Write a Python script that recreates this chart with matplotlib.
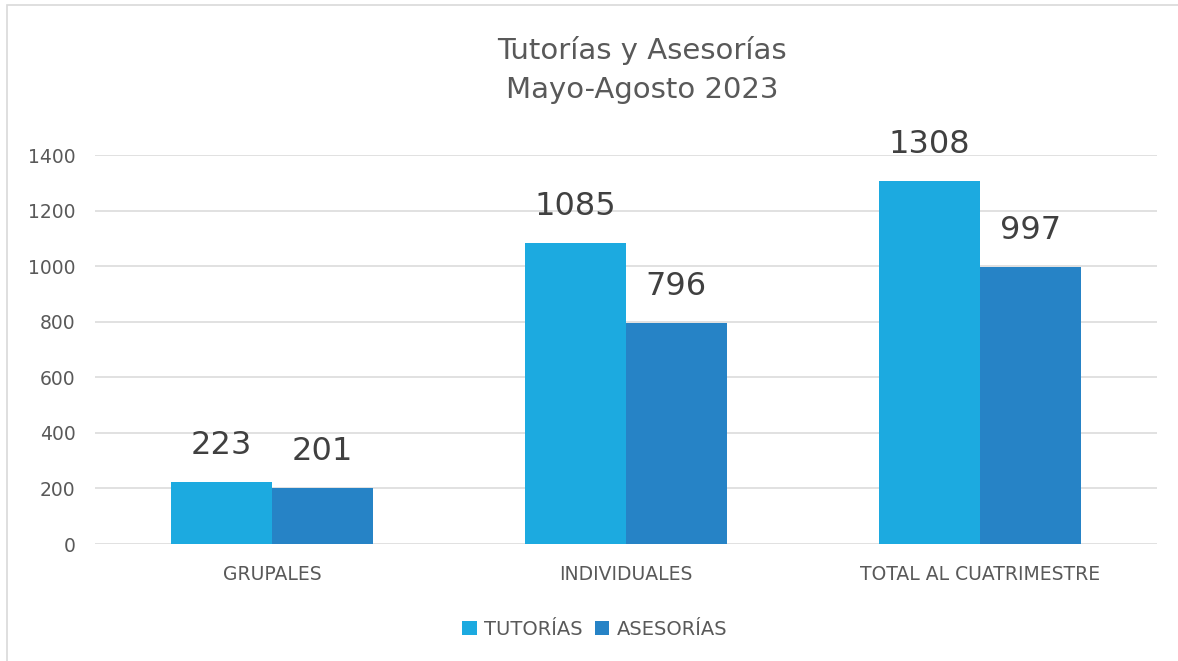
import matplotlib
matplotlib.use('Agg')
import numpy as np
import matplotlib.pyplot as plt
from matplotlib.patches import Rectangle

categorias = ['GRUPALES', 'INDIVIDUALES', 'TOTAL AL CUATRIMESTRE']
tutorias = [223, 1085, 1308]
asesorias = [201, 796, 997]
series = ['TUTORÍAS', 'ASESORÍAS']

plt.rcParams['font.family'] = ['DejaVu Sans']

fig = plt.figure(figsize=(11.78, 6.61), dpi=100)
ax = fig.add_axes([0.0806, 0.177, 0.9014, 0.5885])

x = np.arange(len(categorias))
w = 0.285
b1 = ax.bar(x - w / 2, tutorias, w, color='#1caae0', label=series[0], zorder=3)
b2 = ax.bar(x + w / 2, asesorias, w, color='#2683c6', label=series[1], zorder=3)

for b in (b1, b2):
    ax.bar_label(b, padding=15, fontsize=23, color='#404040')

ax.set_xlim(-0.5, 2.5)
ax.set_ylim(0, 1400)
ax.set_yticks(range(0, 1401, 200))
ax.set_xticks(x)
ax.set_xticklabels(categorias)
ax.tick_params(axis='y', length=0, pad=14, labelsize=13.5, labelcolor='#595959')
ax.tick_params(axis='x', length=0, pad=15, labelsize=13.5, labelcolor='#595959')
ax.grid(axis='y', color='#d9d9d9', linewidth=1.1, zorder=0)
for s in ax.spines.values():
    s.set_visible(False)

# titulo (centrado un poco a la derecha, como en el original)
fig.text(0.545, 0.945, 'Tutorías y Asesorías\nMayo-Agosto 2023', ha='center', va='top',
         fontsize=21, color='#595959', linespacing=1.5)

leg = ax.legend(loc='center', bbox_to_anchor=(0.505, 0.048), bbox_transform=fig.transFigure,
                ncol=2, frameon=False, fontsize=14, handlelength=0.75, handleheight=0.75,
                handletextpad=0.4, columnspacing=0.6)
for t in leg.get_texts():
    t.set_color('#595959')

fig.add_artist(Rectangle((0.006, -0.1), 1.5, 1.0924, fill=False, edgecolor='#d9d9d9',
                         linewidth=1.2, transform=fig.transFigure))

fig.savefig('out.png', dpi=100)
